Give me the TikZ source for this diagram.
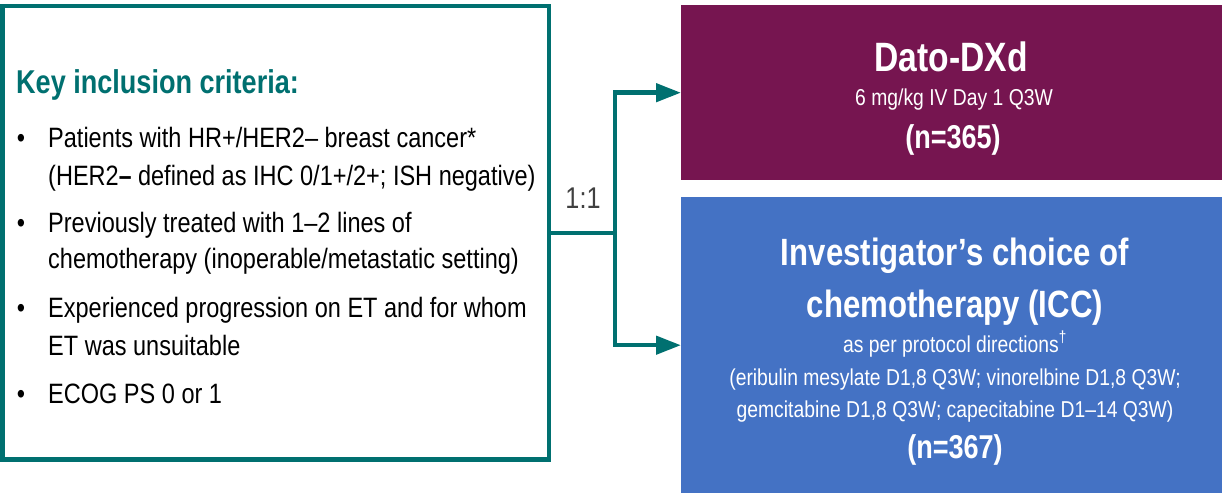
\documentclass[tikz,border=0pt]{standalone}
\usepackage{fontspec}
\setmainfont[FakeStretch=0.84,BoldFeatures={FakeStretch=0.82}]{Liberation Sans}
\usetikzlibrary{arrows.meta}
\definecolor{trialteal}{RGB}{0,112,112}
\definecolor{datopurple}{RGB}{118,21,80}
\definecolor{iccblue}{RGB}{68,114,196}
\definecolor{ratiogray}{RGB}{64,64,64}
\newcommand{\fs}[1]{\fontsize{#1}{#1}\selectfont}
\begin{document}
\begin{tikzpicture}[x=1pt,y=-1pt,
  armbox/.style={draw=none,inner sep=0,anchor=north west,minimum width=541},
  line/.style={anchor=base west,inner sep=0,font=\fs{28}},
  bullet/.style={anchor=base,inner sep=0,font=\fs{28}},
  armtext/.style={anchor=base,inner sep=0,text=white},
  conn/.style={draw=trialteal,line width=4.5pt},
  tip/.style={-{Triangle[length=25pt,width=18pt]}}]
\useasboundingbox (0,0) rectangle (1222,495);

% criteria panel
\node[draw=trialteal,line width=4.5pt,fill=white,minimum width=546.5,
      minimum height=453.5,inner sep=0] (crit) at (275.75,232.75) {};
\node[anchor=base west,inner sep=0,font=\fs{33}\bfseries,text=trialteal]
  (title) at (16,93) {Key inclusion criteria:};
\node[bullet] (b1) at (21,147) {•};
\node[line] (l1) at (48,147) {Patients with HR+/HER2– breast cancer*};
\node[line] (l2) at (48,185) {(HER2\textbf{–} defined as IHC 0/1+/2+; ISH negative)};
\node[bullet] (b2) at (21,232) {•};
\node[line] (l3) at (48,232) {Previously treated with 1–2 lines of};
\node[line] (l4) at (48,268) {chemotherapy (inoperable/metastatic setting)};
\node[bullet] (b3) at (21,317) {•};
\node[line] (l5) at (48,317) {Experienced progression on ET and for whom};
\node[line] (l6) at (48,355) {ET was unsuitable};
\node[bullet] (b4) at (21,403) {•};
\node[line] (l7) at (48,403) {ECOG PS 0 or 1};

% treatment arms
\node[armbox,fill=datopurple,minimum height=175] (dato) at (681,5) {};
\node[armbox,fill=iccblue,minimum height=296] (icc) at (681,197) {};

\node[armtext,font=\fs{41}\bfseries] (d1) at (951,71) {Dato-DXd};
\node[armtext,font=\fs{23}] (d2) at (954,105) {6 mg/kg IV Day 1 Q3W};
\node[armtext,font=\fs{33}\bfseries] (d3) at (953,148) {(n=365)};

\node[armtext,font=\fs{38}\bfseries] (c1) at (955,265) {Investigator’s choice of};
\node[armtext,font=\fs{38}\bfseries] (c2) at (955,317) {chemotherapy (ICC)};
\node[armtext,font=\fs{23}] (c3) at (955,352) {as per protocol directions\textsuperscript{†}};
\node[armtext,font=\fs{23}] (c4) at (955,385) {(eribulin mesylate D1,8 Q3W; vinorelbine D1,8 Q3W;};
\node[armtext,font=\fs{23}] (c5) at (955,417) {gemcitabine D1,8 Q3W; capecitabine D1–14 Q3W)};
\node[armtext,font=\fs{33}\bfseries] (c6) at (955,458) {(n=367)};

% randomisation connector
\coordinate (split) at (615,232.75);
\draw[conn] (crit.east) -- (split);
\draw[conn,tip] (split) |- (dato.west);
\draw[conn,tip] (split) |- (icc.west);
\node[anchor=base,inner sep=0,font=\fs{30},text=ratiogray] (ratio) at (583,208) {1:1};
\end{tikzpicture}
\end{document}
